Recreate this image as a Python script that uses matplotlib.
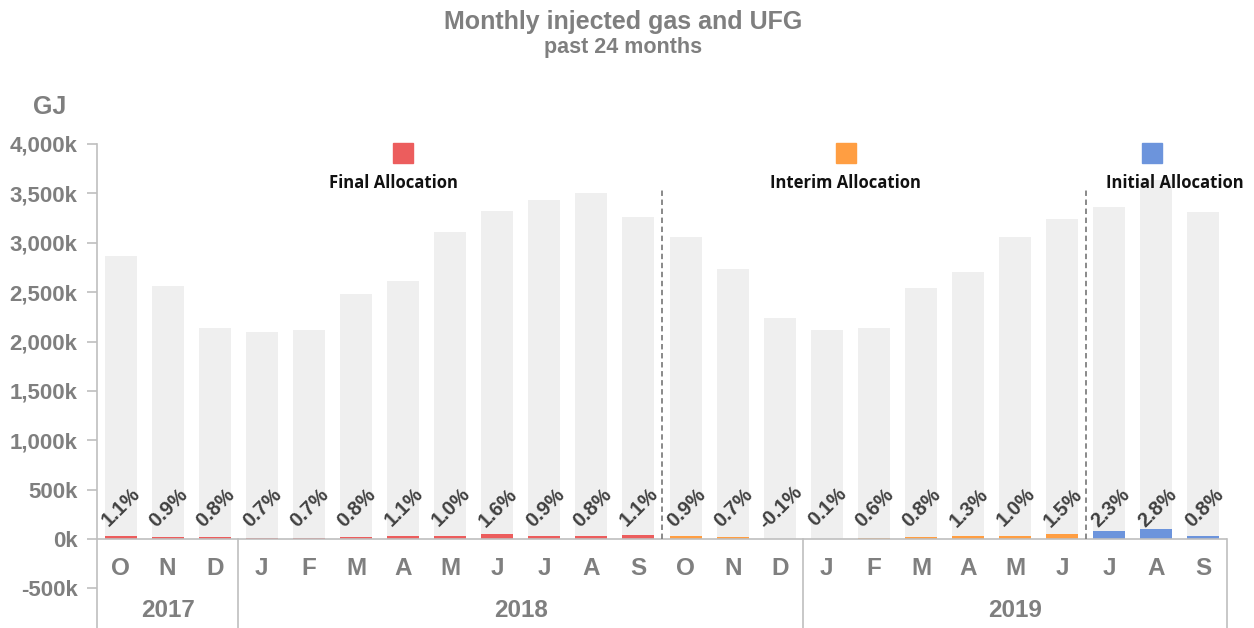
import matplotlib
matplotlib.use("Agg")
import matplotlib.pyplot as plt

# ---- data ----
months = ["O", "N", "D", "J", "F", "M", "A", "M", "J", "J", "A", "S",
          "O", "N", "D", "J", "F", "M", "A", "M", "J", "J", "A", "S"]
years = ["2017", "2018", "2019"]
year_span = [(0, 3), (3, 15), (15, 24)]          # category index ranges per year
injected_k = [2866, 2562, 2137, 2096, 2116, 2481, 2613, 3109, 3322, 3433, 3504, 3261,
              3058, 2734, 2238, 2116, 2137, 2542, 2704, 3058, 3241, 3362, 3635, 3311]
ufg_k = [31.5, 23, 17, 14.7, 14.8, 19.8, 28.7, 31, 53, 31, 28, 36,
         27.5, 19, -2.2, 2, 12.8, 20, 35, 31, 49, 77, 102, 26.5]
ufg_pct = ["1.1%", "0.9%", "0.8%", "0.7%", "0.7%", "0.8%", "1.1%", "1.0%", "1.6%", "0.9%", "0.8%", "1.1%",
           "0.9%", "0.7%", "-0.1%", "0.1%", "0.6%", "0.8%", "1.3%", "1.0%", "1.5%", "2.3%", "2.8%", "0.8%"]
allocation = ["Final"] * 12 + ["Interim"] * 9 + ["Initial"] * 3
alloc_names = ["Final Allocation", "Interim Allocation", "Initial Allocation"]
yticks = [-500, 0, 500, 1000, 1500, 2000, 2500, 3000, 3500, 4000]

# ---- style ----
colors = {"Final": "#EC5D5D", "Interim": "#FF9E42", "Initial": "#6C94DC"}
bar_grey = "#EFEFEF"
axis_grey = "#BFBFBF"
text_grey = "#7F7F7F"
plt.rcParams["font.family"] = ["Liberation Sans", "DejaVu Sans"]

W, H = 1254, 628
fig = plt.figure(figsize=(W / 100, H / 100), dpi=100)
ax_left, ax_right, ax_top, ax_bot = 97, 1227, 144, 628
ax = fig.add_axes([ax_left / W, 1 - ax_bot / H, (ax_right - ax_left) / W, (ax_bot - ax_top) / H])

ymin = -(ax_bot - 539) / ((539 - 144) / 4000)
ax.set_ylim(ymin, 4000)
ax.set_xlim(-0.5, len(months) - 0.5)

x = list(range(len(months)))
bw = 0.68
ax.bar(x, injected_k, width=bw, color=bar_grey, zorder=1)
ax.bar(x, ufg_k, width=bw, color=[colors[a] for a in allocation], zorder=2)

# percentage labels
for i, p in enumerate(ufg_pct):
    ax.text(i + 0.02, 320, p, rotation=45, ha="center", va="center", fontsize=14.5,
            fontweight="bold", color="#404040", zorder=3)

# baseline
ax.axhline(0, color=axis_grey, lw=1.2, zorder=2.5)

# dashed allocation separators
for xb in [11.5, 20.5]:
    ax.plot([xb, xb], [0, 3540], ls=(0, (3, 2)), color="#808080", lw=1.3, zorder=3)

# legend-style markers
legend_pos = [(6.0, 5.8), (15.4, 15.4), (21.9, 22.4)]
for (mx, tx), name, key in zip(legend_pos, alloc_names, ["Final", "Interim", "Initial"]):
    ax.plot([mx], [3904], marker="s", ms=14, color=colors[key], mec=colors[key], zorder=4, clip_on=False)
    ax.text(tx, 3605, name, ha="center", va="center", fontsize=12, fontweight="bold",
            family=["Open Sans", "DejaVu Sans"], color="#111111", zorder=4, clip_on=False)

# category axis (months and years)
for i, m in enumerate(months):
    ax.text(i, -294, m, ha="center", va="center", fontsize=17.5, fontweight="bold", color=text_grey)
for (a, b), yr in zip(year_span, years):
    ax.text((a + b - 1) / 2, -719, yr, ha="center", va="center", fontsize=17.5,
            fontweight="bold", color=text_grey)
for xb in [2.5, 14.5, 23.5]:
    ax.plot([xb, xb], [0, ymin], color=axis_grey, lw=1.2, zorder=2.5, clip_on=False)

# y axis
ax.set_yticks(yticks)
ax.set_yticklabels([f"{v:,}k" for v in yticks])
ax.tick_params(axis="y", length=7, width=1.2, color=axis_grey, labelsize=16, labelcolor=text_grey, pad=7)
for lab in ax.get_yticklabels():
    lab.set_fontweight("bold")
ax.set_xticks([])
for s in ["top", "right", "bottom"]:
    ax.spines[s].set_visible(False)
ax.spines["left"].set_color(axis_grey)
ax.spines["left"].set_linewidth(1.2)

fig.text(50 / W, 1 - 107 / H, "GJ", ha="center", va="center", fontsize=18, fontweight="bold", color=text_grey)
fig.text(623 / W, 1 - 22 / H, "Monthly injected gas and UFG", ha="center", va="center",
         fontsize=18, fontweight="bold", color=text_grey)
fig.text(623 / W, 1 - 47 / H, "past 24 months", ha="center", va="center",
         fontsize=15.5, fontweight="bold", color=text_grey)

fig.savefig("out.png", dpi=100)
